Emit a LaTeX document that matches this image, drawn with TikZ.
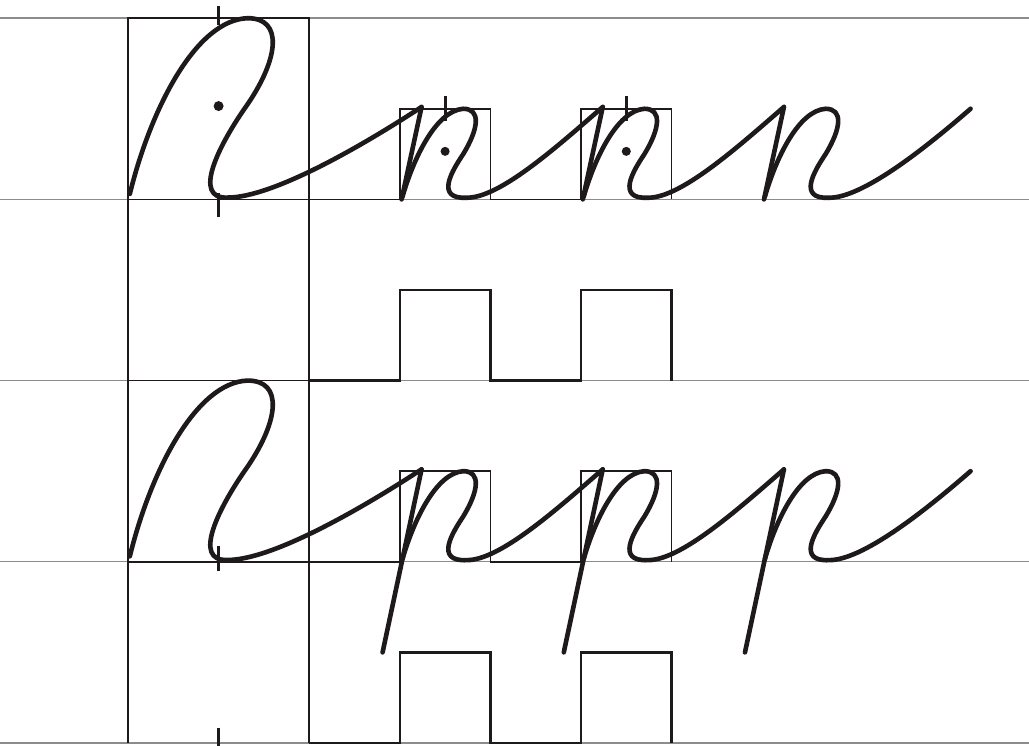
\documentclass[tikz,border=0pt]{standalone}
\usepackage{tikz}
\usetikzlibrary{calc}
\definecolor{ruleGray}{HTML}{8C8C8C}
\definecolor{penInk}{HTML}{1E1A1B}

\begin{document}
\begin{tikzpicture}[
    guide/.style={ruleGray, line width=0.45pt},
    frame/.style={penInk, line width=0.55pt},
    wave/.style={penInk, line width=0.75pt},
    pen/.style={penInk, line width=1.45pt, line join=round, line cap=round},
    tick/.style={penInk, line width=0.95pt},
    inkdot/.style={fill=penInk},
]
\useasboundingbox (-1.413,-0.033) rectangle (9.945,8.201);

% ---- Guide lines ----
\foreach \y in {0,2,4,6,8}
  \draw[guide] (-1.413,\y) -- (9.945,\y);

% ---- Big frames ----
\draw[frame] (0,0) -- (0,8);
\draw[frame] (2,0) -- (2,8);
\foreach \b in {2,6}
  \draw[frame] (0,\b) rectangle (2,\b+2);

% ---- Square waves (small frames) ----
\foreach \b/\s in {6/frame, 4/wave, 2/frame, 0/wave}
  \draw[\s] (2,\b) -- (3,\b) -- (3,\b+1) -- (4,\b+1) -- (4,\b)
            -- (5,\b) -- (5,\b+1) -- (6,\b+1) -- (6,\b);

% ---- Written letters: row 1 (n) and row 3 (p) ----
\foreach \b/\e/\f in {6/0.02/0, 2/-0.19/-1} {
  % big letter and link to first small letter
  \draw[pen] (0.02,\b+0.06) .. controls (0.25,\b+1.0) and (0.75,\b+1.98) .. (1.32,\b+2)
     .. controls (1.72,\b+2) and (1.66,\b+1.55) .. (1.32,\b+1.05)
     .. controls (1.0,\b+0.6) and (0.7,\b) .. (1.1,\b+0.02)
     .. controls (1.6,\b+0.02) and (2.6,\b+0.6) .. (3.24,\b+1.02);
  % small letters
  \foreach \x/\ex/\ey in {3/5.24/1.02, 5/7.24/1.02, 7/9.3/1.0} {
    \draw[pen] (\x+0.24,\b+1.02) -- (\x+\e,\b+\f);
    \draw[pen] (\x+0.03,\b+0.03) .. controls (\x+0.15,\b+0.45) and (\x+0.4,\b+0.98) .. (\x+0.7,\b+1)
       .. controls (\x+0.9,\b+1) and (\x+0.87,\b+0.78) .. (\x+0.7,\b+0.5)
       .. controls (\x+0.58,\b+0.32) and (\x+0.38,\b) .. (\x+0.74,\b+0.018)
       .. controls (\x+1.1,\b+0.018) and (\ex-0.54,\b+\ey-0.47) .. (\ex,\b+\ey);
  }
}

% ---- Ticks and centre dots ----
\draw[tick] (1,7.92) -- (1,8.14);
\draw[tick] (1,6.07) -- (1,5.8);
\draw[tick] (1,2.17) -- (1,1.9);
\draw[tick] (1,0.17) -- (1,-0.1);
\foreach \x in {3.5,5.5}
  \draw[tick] (\x,6.87) -- (\x,7.14);

\fill[inkdot] (1,7.03) circle (0.055);
\foreach \x in {3.5,5.5}
  \fill[inkdot] (\x,6.53) circle (0.05);

\end{tikzpicture}
\end{document}
